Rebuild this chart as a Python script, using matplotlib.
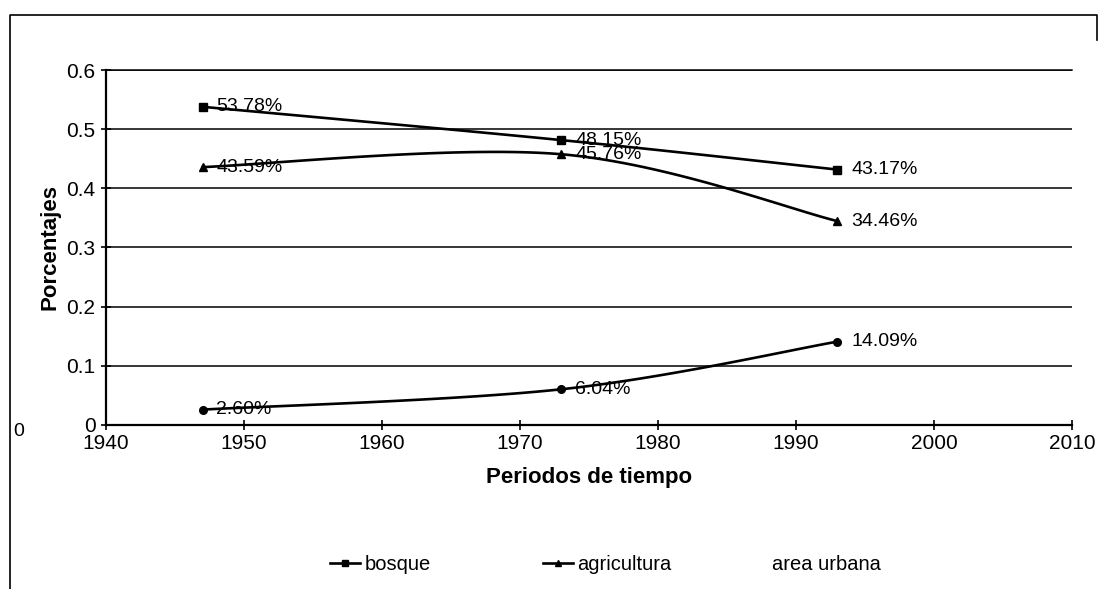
import matplotlib.pyplot as plt
from matplotlib.lines import Line2D
import numpy as np

plt.rcParams['font.family'] = ['Liberation Sans', 'DejaVu Sans']

years = [1947, 1973, 1993]
bosque = [0.5378, 0.4815, 0.4317]
agricultura = [0.4359, 0.4576, 0.3446]
area_urbana = [0.0260, 0.0604, 0.1409]
series_names = ['bosque', 'agricultura', 'area urbana']
markers = ['s', '^', 'o']
x_ticks = [1940, 1950, 1960, 1970, 1980, 1990, 2000, 2010]
y_ticks = [0, 0.1, 0.2, 0.3, 0.4, 0.5, 0.6]


def smooth(xs, ys, n=60):
    # Excel style smoothed line: bezier segments with catmull-rom control points
    xs = np.asarray(xs, float)
    ys = np.asarray(ys, float)
    px = np.concatenate([[xs[0]], xs, [xs[-1]]])
    py = np.concatenate([[ys[0]], ys, [ys[-1]]])
    out_x, out_y = [], []
    t = np.linspace(0, 1, n)
    for i in range(1, len(px) - 2):
        p0 = np.array([px[i], py[i]])
        p3 = np.array([px[i + 1], py[i + 1]])
        c1 = p0 + (p3 - np.array([px[i - 1], py[i - 1]])) / 6
        c2 = p3 - (np.array([px[i + 2], py[i + 2]]) - p0) / 6
        b = ((1 - t) ** 3)[:, None] * p0 + (3 * (1 - t) ** 2 * t)[:, None] * c1 \
            + (3 * (1 - t) * t ** 2)[:, None] * c2 + (t ** 3)[:, None] * p3
        out_x.extend(b[:, 0])
        out_y.extend(b[:, 1])
    return out_x, out_y


fig = plt.figure(figsize=(11, 5.89), dpi=100)
ax = fig.add_axes([106 / 1100, 1 - 425 / 589, (1072 - 106) / 1100, (425 - 70) / 589])

for vals, mk in zip([bosque, agricultura, area_urbana], markers):
    sx, sy = smooth(years, vals)
    ax.plot(sx, sy, color='black', lw=1.9, zorder=3)
    ax.plot(years, vals, linestyle='none', marker=mk, color='black', ms=5.5, zorder=4)
    for x, v in zip(years, vals):
        ax.annotate(f'{v * 100:.2f}%', (x, v), xytext=(10, 0), textcoords='offset points',
                    va='center', ha='left', fontsize=14, zorder=5)

ax.set_xlim(1940, 2010)
ax.set_ylim(0, 0.6)
ax.set_xticks(x_ticks)
ax.set_yticks(y_ticks)
ax.set_yticklabels(['0' if v == 0 else f'{v:.1f}' for v in y_ticks])
ax.tick_params(direction='inout', length=7, width=1.2, labelsize=15, color='black')
ax.tick_params(axis='x', pad=3)
ax.tick_params(axis='y', pad=4)
ax.grid(axis='y', color='black', lw=1.1)
ax.set_axisbelow(True)
for s in ['left', 'bottom']:
    ax.spines[s].set_linewidth(1.6)
ax.spines['right'].set_visible(False)
ax.spines['top'].set_linewidth(1.1)

ax.set_ylabel('Porcentajes', fontsize=16, fontweight='bold', labelpad=4)
ax.set_xlabel('Periodos de tiempo', fontsize=16, fontweight='bold', labelpad=10)

handles = [
    Line2D([], [], color='black', lw=1.9, marker='s', ms=5),
    Line2D([], [], color='black', lw=1.9, marker='^', ms=5),
    Line2D([], [], color='none', lw=0),
]
legend_x = [330, 543, 738]
for h, name, lx in zip(handles, series_names, legend_x):
    fig.legend([h], [name], loc='center left', bbox_to_anchor=(lx / 1100, 1 - 565 / 589),
               frameon=False, fontsize=14.5, handlelength=1.5, handletextpad=0.2,
               borderpad=0, borderaxespad=0)

# chart area border and stray mark from the scan
fig.add_artist(Line2D([10 / 1100, 10 / 1100, 1097 / 1100, 1097 / 1100],
                      [0, 1 - 15 / 589, 1 - 15 / 589, 1 - 40 / 589],
                      transform=fig.transFigure, color='black', lw=1.2))
fig.text(13 / 1100, 1 - 432 / 589, '0', fontsize=14, va='center', ha='left')

fig.savefig('out.png', dpi=100)
